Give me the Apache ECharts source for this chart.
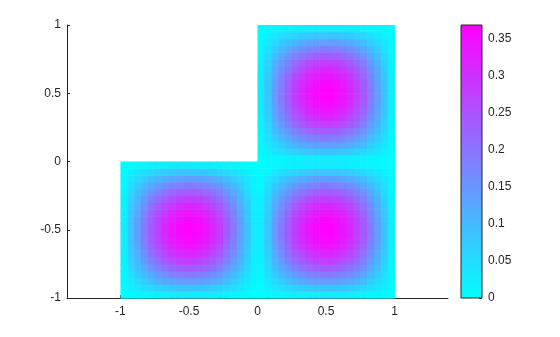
<!DOCTYPE html>
<html><head><meta charset="utf-8">
<script src="https://cdn.jsdelivr.net/npm/echarts@6/dist/echarts.min.js"></script>
<style>html,body{margin:0;padding:0;background:#fff}#c{width:560px;height:337px}</style>
</head><body><div id="c"></div>
<script>
// Lower-left corners of the three unit squares of the L-shaped domain
const squareCorners = [[-1, -1], [0, -1], [0, 0]];
const cellSize = 0.05;
// Field values on a 20x20 grid inside each square (same bump in each square)
const squareValues = [
  [0.002,0.007,0.011,0.015,0.019,0.022,0.025,0.027,0.028,0.029,0.029,0.028,0.027,0.025,0.022,0.019,0.015,0.011,0.007,0.002],
  [0.007,0.020,0.033,0.045,0.056,0.065,0.073,0.080,0.084,0.086,0.086,0.084,0.080,0.073,0.065,0.056,0.045,0.033,0.020,0.007],
  [0.011,0.033,0.054,0.074,0.092,0.107,0.120,0.130,0.137,0.141,0.141,0.137,0.130,0.120,0.107,0.092,0.074,0.054,0.033,0.011],
  [0.015,0.045,0.074,0.101,0.125,0.147,0.164,0.178,0.187,0.192,0.192,0.187,0.178,0.164,0.147,0.125,0.101,0.074,0.045,0.015],
  [0.019,0.056,0.092,0.125,0.156,0.182,0.204,0.221,0.233,0.239,0.239,0.233,0.221,0.204,0.182,0.156,0.125,0.092,0.056,0.019],
  [0.022,0.065,0.107,0.147,0.182,0.213,0.239,0.259,0.273,0.280,0.280,0.273,0.259,0.239,0.213,0.182,0.147,0.107,0.065,0.022],
  [0.025,0.073,0.120,0.164,0.204,0.239,0.268,0.291,0.306,0.314,0.314,0.306,0.291,0.268,0.239,0.204,0.164,0.120,0.073,0.025],
  [0.027,0.080,0.130,0.178,0.221,0.259,0.291,0.315,0.331,0.340,0.340,0.331,0.315,0.291,0.259,0.221,0.178,0.130,0.080,0.027],
  [0.028,0.084,0.137,0.187,0.233,0.273,0.306,0.331,0.349,0.358,0.358,0.349,0.331,0.306,0.273,0.233,0.187,0.137,0.084,0.028],
  [0.029,0.086,0.141,0.192,0.239,0.280,0.314,0.340,0.358,0.367,0.367,0.358,0.340,0.314,0.280,0.239,0.192,0.141,0.086,0.029],
  [0.029,0.086,0.141,0.192,0.239,0.280,0.314,0.340,0.358,0.367,0.367,0.358,0.340,0.314,0.280,0.239,0.192,0.141,0.086,0.029],
  [0.028,0.084,0.137,0.187,0.233,0.273,0.306,0.331,0.349,0.358,0.358,0.349,0.331,0.306,0.273,0.233,0.187,0.137,0.084,0.028],
  [0.027,0.080,0.130,0.178,0.221,0.259,0.291,0.315,0.331,0.340,0.340,0.331,0.315,0.291,0.259,0.221,0.178,0.130,0.080,0.027],
  [0.025,0.073,0.120,0.164,0.204,0.239,0.268,0.291,0.306,0.314,0.314,0.306,0.291,0.268,0.239,0.204,0.164,0.120,0.073,0.025],
  [0.022,0.065,0.107,0.147,0.182,0.213,0.239,0.259,0.273,0.280,0.280,0.273,0.259,0.239,0.213,0.182,0.147,0.107,0.065,0.022],
  [0.019,0.056,0.092,0.125,0.156,0.182,0.204,0.221,0.233,0.239,0.239,0.233,0.221,0.204,0.182,0.156,0.125,0.092,0.056,0.019],
  [0.015,0.045,0.074,0.101,0.125,0.147,0.164,0.178,0.187,0.192,0.192,0.187,0.178,0.164,0.147,0.125,0.101,0.074,0.045,0.015],
  [0.011,0.033,0.054,0.074,0.092,0.107,0.120,0.130,0.137,0.141,0.141,0.137,0.130,0.120,0.107,0.092,0.074,0.054,0.033,0.011],
  [0.007,0.020,0.033,0.045,0.056,0.065,0.073,0.080,0.084,0.086,0.086,0.084,0.080,0.073,0.065,0.056,0.045,0.033,0.020,0.007],
  [0.002,0.007,0.011,0.015,0.019,0.022,0.025,0.027,0.028,0.029,0.029,0.028,0.027,0.025,0.022,0.019,0.015,0.011,0.007,0.002]
];
const xTicks = [-1, -0.5, 0, 0.5, 1];
const yTicks = [-1, -0.5, 0, 0.5, 1];
const colorTicks = [0, 0.05, 0.1, 0.15, 0.2, 0.25, 0.3, 0.35];
const colorRange = [0, 0.369];
const xRange = [-1.39, 1.39];
const yRange = [-1, 1];

const cells = [];
squareCorners.forEach(([cx, cy]) => {
  squareValues.forEach((row, i) => {
    row.forEach((v, j) => {
      cells.push([cx + j * cellSize, cy + i * cellSize, v]);
    });
  });
});

const FONT = "'Liberation Sans', Arial, sans-serif";
const TXT = '#262626';
const LINE = '#262626';

const chart = echarts.init(document.getElementById('c'), null, {renderer: 'canvas'});
chart.setOption({
  animation: false,
  backgroundColor: '#fff',
  textStyle: {fontFamily: FONT},
  grid: [
    {left: 67, top: 25, width: 381, height: 273},
    {left: 461, top: 25, width: 21, height: 273}
  ],
  xAxis: [
    {
      type: 'value', gridIndex: 0, min: xRange[0], max: xRange[1],
      axisLine: {show: true, onZero: false, lineStyle: {color: LINE, width: 1}},
      axisTick: {show: true, inside: true, length: 3, customValues: xTicks, lineStyle: {color: LINE}},
      axisLabel: {customValues: xTicks, color: TXT, fontSize: 12, fontFamily: FONT, margin: 8},
      splitLine: {show: false}
    },
    {
      type: 'value', gridIndex: 1, min: 0, max: 1, show: false
    }
  ],
  yAxis: [
    {
      type: 'value', gridIndex: 0, min: yRange[0], max: yRange[1], interval: 0.5,
      axisLine: {show: true, onZero: false, lineStyle: {color: LINE, width: 1}},
      axisTick: {show: true, inside: true, length: 3, customValues: yTicks, lineStyle: {color: LINE}},
      axisLabel: {customValues: yTicks, color: TXT, fontSize: 12, fontFamily: FONT, margin: 6},
      splitLine: {show: false}
    },
    {
      type: 'value', gridIndex: 1, position: 'right', min: colorRange[0], max: colorRange[1],
      axisLine: {show: false, onZero: false},
      axisTick: {show: true, inside: true, length: 3, customValues: colorTicks, lineStyle: {color: LINE}},
      axisLabel: {customValues: colorTicks, color: TXT, fontSize: 12, fontFamily: FONT, margin: 6},
      splitLine: {show: false}
    }
  ],
  visualMap: {
    show: false, seriesIndex: 0, dimension: 2,
    min: colorRange[0], max: colorRange[1],
    inRange: {color: ['#00ffff', '#ff00ff']}
  },
  series: [
    {
      type: 'custom', xAxisIndex: 0, yAxisIndex: 0, data: cells, z: 1,
      renderItem: function (params, api) {
        const x = api.value(0), y = api.value(1);
        const p0 = api.coord([x, y + cellSize]);
        const p1 = api.coord([x + cellSize, y]);
        return {
          type: 'rect',
          shape: {x: p0[0], y: p0[1], width: p1[0] - p0[0] + 0.6, height: p1[1] - p0[1] + 0.6},
          style: {fill: api.visual('color')}
        };
      }
    },
    {
      type: 'custom', xAxisIndex: 1, yAxisIndex: 1, data: [[colorRange[0], colorRange[1]]], z: 1,
      renderItem: function (params, api) {
        const p0 = api.coord([0, api.value(1)]);
        const p1 = api.coord([1, api.value(0)]);
        return {
          type: 'rect',
          shape: {x: p0[0], y: p0[1], width: p1[0] - p0[0], height: p1[1] - p0[1]},
          style: {
            fill: {type: 'linear', x: 0, y: 1, x2: 0, y2: 0,
              colorStops: [{offset: 0, color: '#00ffff'}, {offset: 1, color: '#ff00ff'}]},
            stroke: LINE, lineWidth: 1
          }
        };
      }
    }
  ]
});
</script></body></html>
